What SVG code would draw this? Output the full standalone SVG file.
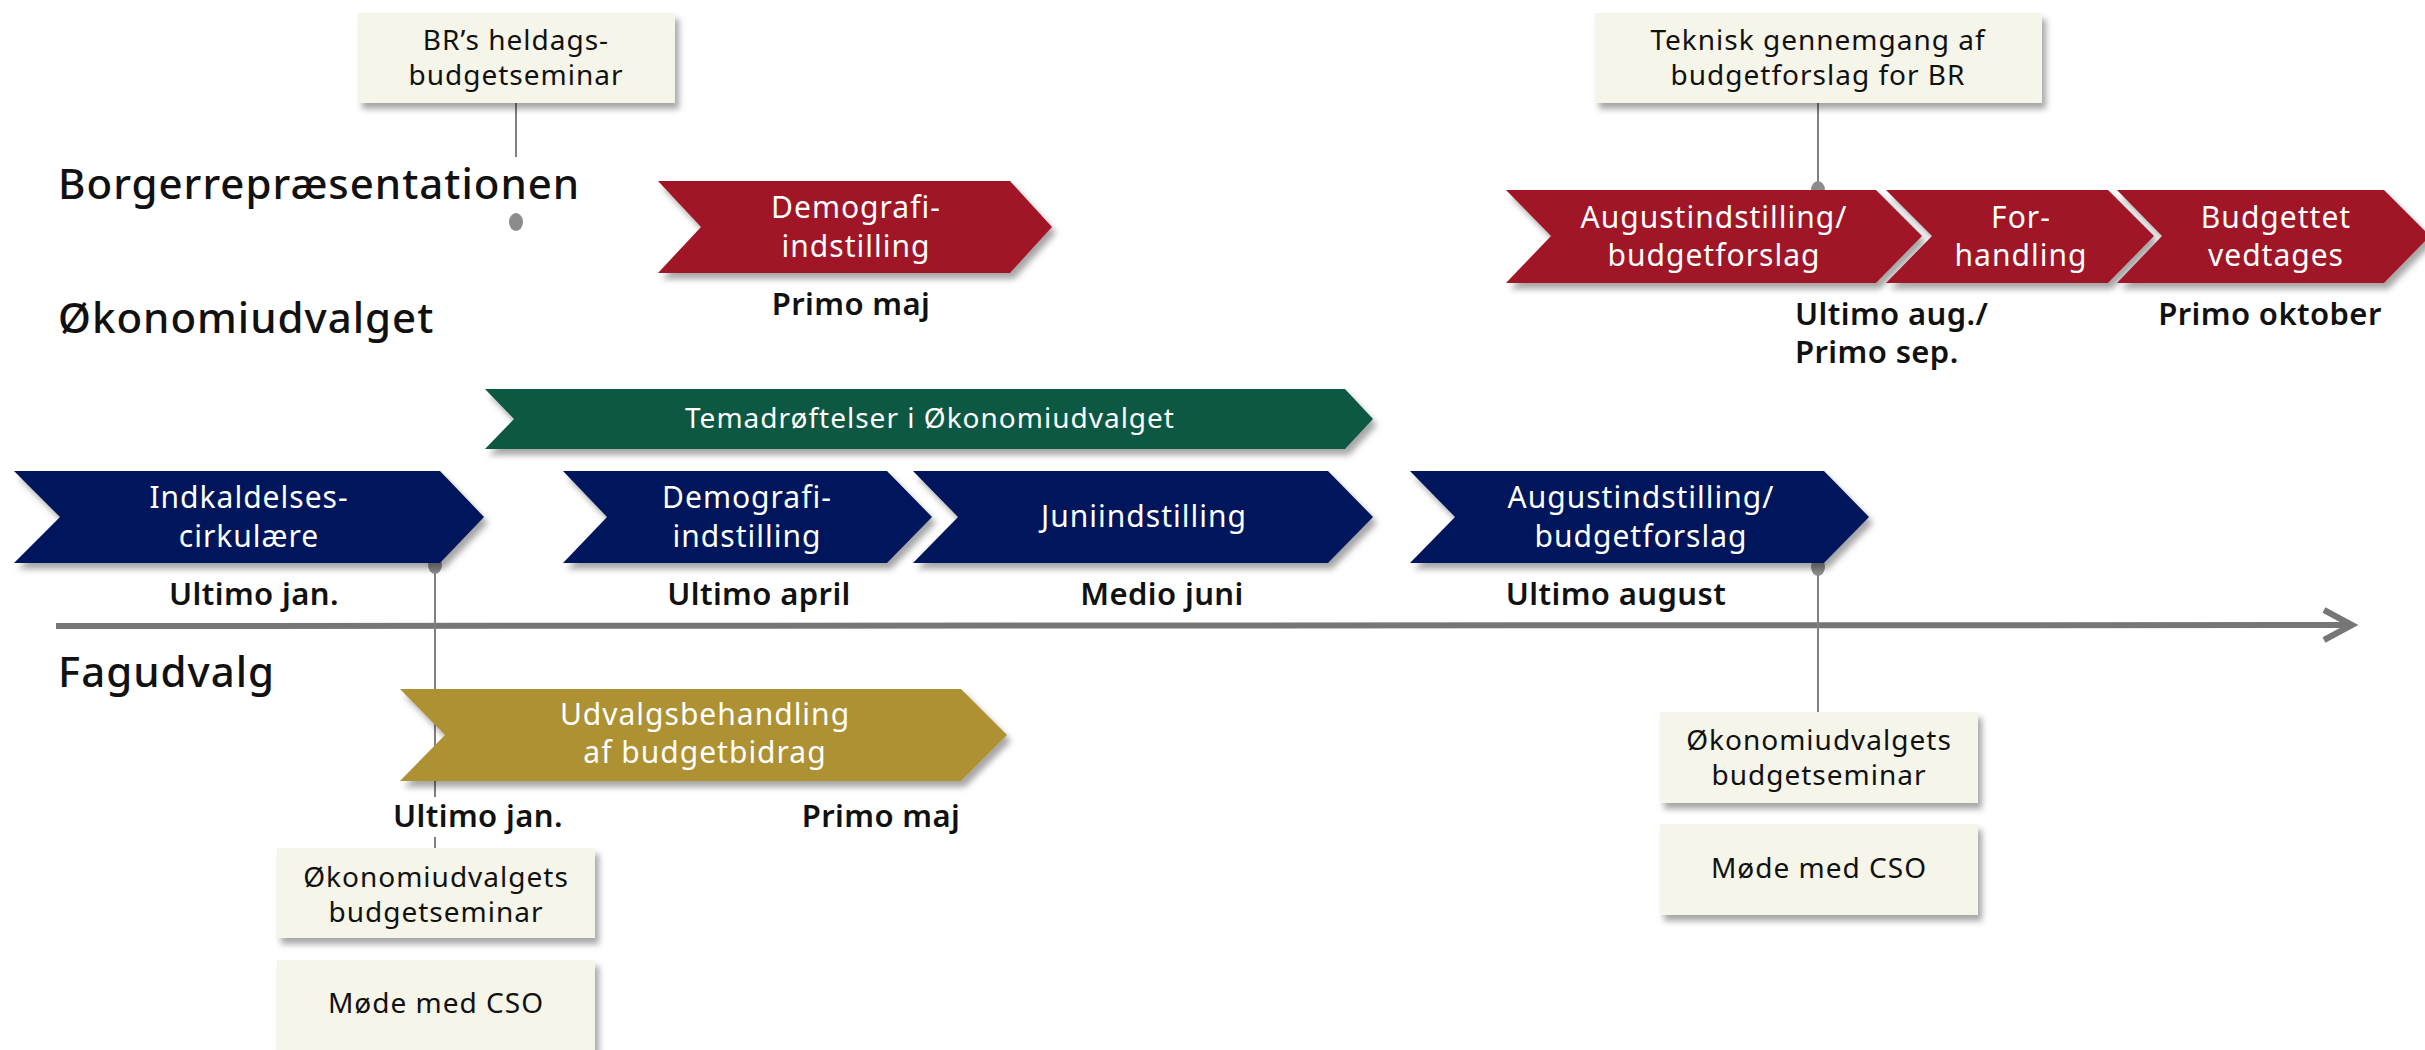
<svg xmlns="http://www.w3.org/2000/svg" width="2425" height="1050" viewBox="0 0 2425 1050">
<defs>
<filter id="sh" x="-10%" y="-20%" width="130%" height="150%">
<feDropShadow dx="4" dy="6" stdDeviation="3" flood-color="#000" flood-opacity="0.35"/>
</filter>
<marker id="arr" markerUnits="userSpaceOnUse" markerWidth="40" markerHeight="40" refX="30" refY="17" orient="auto" overflow="visible">
<path d="M2,2 L30,17 L2,32" fill="none" stroke="#767676" stroke-width="6"/>
</marker>
<style>
.head{font-family:"Noto Sans","Open Sans",sans-serif;font-size:42px;font-weight:500;letter-spacing:1px;fill:#111}
.date{font-family:"Noto Sans","Open Sans",sans-serif;font-size:31px;font-weight:600;letter-spacing:0.4px;fill:#111;text-anchor:middle}
.datel{font-family:"Noto Sans","Open Sans",sans-serif;font-size:31px;font-weight:600;letter-spacing:0.4px;fill:#111}
.wt{font-family:"Noto Sans","Open Sans",sans-serif;font-size:30px;letter-spacing:1px;fill:#fff;text-anchor:middle}
.bt{font-family:"Noto Sans","Open Sans",sans-serif;font-size:28px;letter-spacing:1px;fill:#111;text-anchor:middle}
.box{fill:#F5F5EA;filter:url(#sh)}
.red{fill:#A01928;filter:url(#sh)}
.navy{fill:#00195C;filter:url(#sh)}
.green{fill:#0B5942;filter:url(#sh)}
.gold{fill:#AD9131;filter:url(#sh)}
.con{stroke:#808080;stroke-width:2;fill:none}
.dot{fill:#8C8C8C}
</style>
</defs>
<rect width="2425" height="1050" fill="#fff"/>

<g id="axis">
<line x1="56" y1="626" x2="2352" y2="625" stroke="#767676" stroke-width="6" marker-end="url(#arr)"/>
</g>

<g id="connectors">
<line class="con" x1="516" y1="103" x2="516" y2="157"/>
<ellipse class="dot" cx="516" cy="222" rx="7" ry="9"/>
<line class="con" x1="1818" y1="103" x2="1818" y2="190"/>
<ellipse class="dot" cx="1818" cy="190" rx="7" ry="9"/>
<line class="con" x1="435" y1="565" x2="435" y2="797"/>
<line class="con" x1="435" y1="837" x2="435" y2="848"/>
<ellipse class="dot" cx="435" cy="565" rx="7" ry="9"/>
<line class="con" x1="1818" y1="567" x2="1818" y2="712"/>
<ellipse class="dot" cx="1818" cy="567" rx="7" ry="9"/>
</g>

<g id="headings">
<text class="head" x="58" y="199">Borgerrepræsentationen</text>
<text class="head" x="58" y="333">Økonomiudvalget</text>
<text class="head" x="58" y="687">Fagudvalg</text>
</g>

<g id="br-seminar">
<rect class="box" x="358" y="13" width="317" height="90"/>
<text class="bt" x="516" y="50">BR’s heldags-</text>
<text class="bt" x="516" y="85">budgetseminar</text>
</g>

<g id="teknisk">
<rect class="box" x="1595" y="13" width="447" height="90"/>
<text class="bt" x="1818" y="50">Teknisk gennemgang af</text>
<text class="bt" x="1818" y="85">budgetforslag for BR</text>
</g>

<g id="br-demografi">
<polygon class="red" points="658,181 1010,181 1052,227 1010,273 658,273 701,227"/>
<text class="wt" x="856" y="218">Demografi-</text>
<text class="wt" x="856" y="257">indstilling</text>
<text class="date" x="851" y="315">Primo maj</text>
</g>

<g id="br-august">
<polygon class="red" points="1506,190 1876,190 1922,236 1876,283 1506,283 1551,236"/>
<text class="wt" x="1714" y="228">Augustindstilling/</text>
<text class="wt" x="1714" y="266">budgetforslag</text>
</g>

<g id="br-forhandling">
<polygon class="red" points="1886,190 2108,190 2154,236 2108,283 1886,283 1932,236"/>
<text class="wt" x="2021" y="228">For-</text>
<text class="wt" x="2021" y="266">handling</text>
<text class="datel" x="1795" y="325">Ultimo aug./</text>
<text class="datel" x="1795" y="363">Primo sep.</text>
</g>

<g id="br-vedtages">
<polygon class="red" points="2117,190 2384,190 2430,236 2384,283 2117,283 2162,236"/>
<text class="wt" x="2276" y="228">Budgettet</text>
<text class="wt" x="2276" y="266">vedtages</text>
<text class="date" x="2270" y="325">Primo oktober</text>
</g>

<g id="temadroeftelser">
<polygon class="green" points="485,389 1345,389 1373,419 1345,449 485,449 514,419"/>
<text class="wt" x="930" y="428" style="font-size:28px">Temadrøftelser i Økonomiudvalget</text>
</g>

<g id="indkaldelse">
<polygon class="navy" points="14,471 440,471 484,517 440,563 14,563 60,517"/>
<text class="wt" x="249" y="508">Indkaldelses-</text>
<text class="wt" x="249" y="547">cirkulære</text>
<text class="date" x="254" y="605">Ultimo jan.</text>
</g>

<g id="oeu-demografi">
<polygon class="navy" points="563,471 887,471 932,517 887,563 563,563 607,517"/>
<text class="wt" x="747" y="508">Demografi-</text>
<text class="wt" x="747" y="547">indstilling</text>
<text class="date" x="759" y="605">Ultimo april</text>
</g>

<g id="juni">
<polygon class="navy" points="913,471 1328,471 1373,517 1328,563 913,563 958,517"/>
<text class="wt" x="1144" y="527">Juniindstilling</text>
<text class="date" x="1162" y="605">Medio juni</text>
</g>

<g id="oeu-august">
<polygon class="navy" points="1410,471 1824,471 1869,517 1824,563 1410,563 1455,517"/>
<text class="wt" x="1641" y="508">Augustindstilling/</text>
<text class="wt" x="1641" y="547">budgetforslag</text>
<text class="date" x="1616" y="605">Ultimo august</text>
</g>

<g id="udvalgsbehandling">
<polygon class="gold" points="400,689 961,689 1007,735 961,781 400,781 445,735"/>
<text class="wt" x="705" y="725">Udvalgsbehandling</text>
<text class="wt" x="705" y="763">af budgetbidrag</text>
<text class="date" x="478" y="827">Ultimo jan.</text>
<text class="date" x="881" y="827">Primo maj</text>
</g>

<g id="oeu-seminar-1">
<rect class="box" x="277" y="848" width="318" height="90"/>
<text class="bt" x="436" y="887">Økonomiudvalgets</text>
<text class="bt" x="436" y="922">budgetseminar</text>
</g>

<g id="cso-1">
<rect class="box" x="277" y="960" width="318" height="94"/>
<text class="bt" x="436" y="1013">Møde med CSO</text>
</g>

<g id="oeu-seminar-2">
<rect class="box" x="1660" y="712" width="318" height="91"/>
<text class="bt" x="1819" y="750">Økonomiudvalgets</text>
<text class="bt" x="1819" y="785">budgetseminar</text>
</g>

<g id="cso-2">
<rect class="box" x="1660" y="824" width="318" height="91"/>
<text class="bt" x="1819" y="878">Møde med CSO</text>
</g>
</svg>
